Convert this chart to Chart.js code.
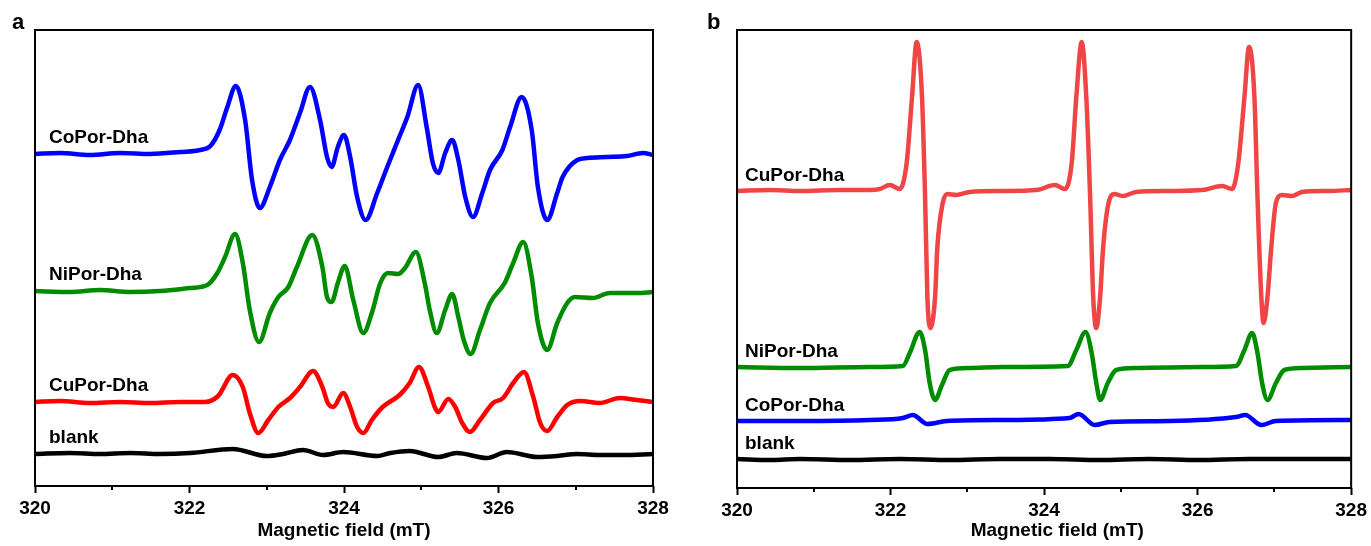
<!DOCTYPE html>
<html>
<head>
<meta charset="utf-8">
<title>EPR spectra</title>
<script src="https://cdn.jsdelivr.net/npm/chart.js@4.4.1/dist/chart.umd.min.js"></script>
<style>
    html, body { margin: 0; padding: 0; background: #ffffff; }
    #wrap { position: relative; width: 1371px; height: 546px; overflow: hidden; }
    #wrap canvas { position: absolute; top: 0; }
    #chartA { left: 0; }
    #chartB { left: 685px; }
</style>
</head>
<body>
<div id="wrap">
    <canvas id="chartA" width="685" height="546"></canvas>
    <canvas id="chartB" width="686" height="546"></canvas>
</div>
<script>
// Axis setup (mT)
const fieldMin = 320;
const fieldMax = 328;
const majorStep = 2;
const minorTicks = [321, 323, 325, 327];
const axisTitle = 'Magnetic field (mT)';

// Panel a - [field (mT), intensity (a.u.)]
const coPorA = [
    [320.00,332],[320.32,333],[320.71,331],[321.10,333],[321.49,332],[321.88,334],[322.14,336],[322.27,340],
    [322.39,356],[322.49,379],[322.60,400],[322.72,366],[322.81,306],[322.91,278],[323.04,299],[323.17,326],
    [323.30,346],[323.43,373],[323.56,399],[323.69,366],[323.78,329],[323.84,319],[323.92,339],[324.00,351],
    [324.08,329],[324.17,289],[324.28,266],[324.43,293],[324.56,319],[324.70,346],[324.82,369],[324.96,401],
    [325.07,359],[325.15,323],[325.22,313],[325.31,333],[325.40,346],[325.48,326],[325.57,289],[325.67,269],
    [325.79,293],[325.89,316],[326.05,336],[326.15,359],[326.30,389],[326.43,356],[326.51,299],[326.63,266],
    [326.76,293],[326.83,309],[327.02,326],[327.15,328],[327.40,329],[327.66,330],[327.87,333],[328.00,331]
];
const niPorA = [
    [320.00,195],[320.45,194],[320.84,196],[321.23,194],[321.62,195],[322.01,198],[322.23,201],[322.36,213],
    [322.46,229],[322.59,252],[322.69,223],[322.78,176],[322.90,144],[323.04,173],[323.15,189],[323.28,199],
    [323.39,219],[323.59,251],[323.72,219],[323.78,189],[323.84,184],[323.92,203],[324.01,220],[324.12,186],
    [324.25,153],[324.36,173],[324.47,203],[324.57,213],[324.70,212],[324.79,218],[324.93,234],[325.05,201],
    [325.11,176],[325.20,153],[325.31,176],[325.40,192],[325.48,169],[325.55,146],[325.64,132],[325.76,156],
    [325.89,183],[326.08,203],[326.19,223],[326.32,244],[326.43,209],[326.51,163],[326.63,136],[326.76,163],
    [326.89,183],[326.99,189],[327.22,188],[327.44,193],[327.79,193],[328.00,194]
];
const cuPorA = [
    [320.00,84],[320.32,85],[320.71,83],[321.10,84],[321.49,83],[321.88,84],[322.20,84],[322.37,90],
    [322.56,111],[322.69,99],[322.78,73],[322.89,53],[323.02,66],[323.15,79],[323.30,88],[323.43,99],
    [323.60,115],[323.72,99],[323.79,83],[323.86,79],[323.99,93],[324.08,79],[324.17,59],[324.25,53],
    [324.36,66],[324.50,79],[324.72,91],[324.85,103],[324.97,119],[325.09,99],[325.18,78],[325.22,74],
    [325.35,87],[325.44,79],[325.53,63],[325.63,54],[325.76,66],[325.93,83],[326.06,88],[326.19,103],
    [326.33,114],[326.45,89],[326.54,63],[326.63,55],[326.76,69],[326.89,81],[327.06,85],[327.31,83],
    [327.57,88],[327.79,86],[328.00,84]
];
const blankA = [
    [320.00,32],[320.45,33],[320.84,32],[321.23,33],[321.62,32],[322.01,33],[322.56,37],[323.00,30],
    [323.21,32],[323.47,36],[323.73,31],[323.99,34],[324.43,30],[324.60,33],[324.85,35],[325.22,29],
    [325.46,33],[325.85,28],[326.11,34],[326.50,29],[326.76,30],[327.02,32],[327.31,31],[327.61,31],
    [328.00,32]
];

// Panel b
const cuPorB = [
    [320.00,297],[320.43,298],[320.82,297],[321.34,298],[321.73,298],[321.86,299],[321.99,303],[322.12,299],
    [322.21,325],[322.28,391],[322.34,446],[322.41,391],[322.45,291],[322.48,191],[322.52,160],[322.58,191],
    [322.61,241],[322.68,285],[322.74,294],[322.86,293],[323.03,296],[323.46,297],[323.90,298],[324.14,303],
    [324.27,299],[324.36,325],[324.42,391],[324.49,446],[324.55,391],[324.60,291],[324.64,191],[324.68,160],
    [324.73,191],[324.77,241],[324.84,285],[324.92,294],[325.02,292],[325.20,296],[325.63,297],[326.06,298],
    [326.32,302],[326.45,299],[326.53,325],[326.61,391],[326.67,441],[326.74,391],[326.78,291],[326.83,191],
    [326.86,165],[326.91,191],[326.96,241],[327.02,285],[327.10,293],[327.23,292],[327.36,296],[327.71,297],
    [328.00,298]
];
const niPorB = [
    [320.00,121],[320.82,120],[321.73,121],[322.16,122],[322.25,135],[322.38,156],[322.45,138],[322.51,105],
    [322.58,88],[322.67,103],[322.77,118],[323.03,120],[323.46,121],[324.31,122],[324.42,138],[324.54,156],
    [324.62,135],[324.68,105],[324.73,88],[324.83,105],[324.94,118],[325.20,120],[326.06,121],[326.50,122],
    [326.61,138],[326.71,155],[326.78,135],[326.84,105],[326.91,88],[327.02,105],[327.13,118],[327.36,120],
    [328.00,121]
];
const coPorB = [
    [320.00,67],[320.82,67],[321.73,68],[322.16,70],[322.29,73],[322.48,64],[322.73,67],[323.46,68],
    [324.33,70],[324.45,74],[324.66,63],[324.85,66],[325.63,67],[326.50,71],[326.62,73],[326.83,63],
    [327.02,67],[328.00,68]
];
const blankB = [
    [320.00,29],[320.43,28],[320.82,29],[321.47,28],[322.12,29],[322.77,28],[323.42,29],[324.07,29],
    [324.72,28],[325.37,29],[326.02,28],[326.67,29],[327.32,29],[328.00,29]
];

const FONT = "'Liberation Sans', Arial, sans-serif";

// Frame, minor ticks, trace names and panel letter
const framePlugin = {
    id: 'frame',
    afterDraw(chart, args, opts) {
        const { ctx, chartArea: a } = chart;
        const xs = chart.scales.x;
        const ys = chart.scales.y;
        ctx.save();
        ctx.strokeStyle = '#000000';
        ctx.lineWidth = 2;
        ctx.strokeRect(a.left, a.top, a.right - a.left, a.bottom - a.top);

        minorTicks.forEach(v => {
            const px = Math.round(xs.getPixelForValue(v));
            ctx.beginPath();
            ctx.moveTo(px, a.bottom);
            ctx.lineTo(px, a.bottom + 4);
            ctx.stroke();
        });

        ctx.fillStyle = '#000000';
        ctx.font = `bold 19px ${FONT}`;
        ctx.textBaseline = 'middle';
        ctx.textAlign = 'left';
        chart.data.datasets.forEach(ds => {
            const first = ds.data[0];
            ctx.fillText(ds.label, a.left + opts.labelDx, ys.getPixelForValue(first.y) - opts.labelDy);
        });

        ctx.font = `bold 22px ${FONT}`;
        ctx.textBaseline = 'alphabetic';
        ctx.fillText(opts.letter, opts.letterX, 29);
        ctx.restore();
    }
};

function toPoints(arr) {
    return arr.map(p => ({ x: p[0], y: p[1] }));
}

function makeChart(canvasId, traces, cfg) {
    const ctx = document.getElementById(canvasId).getContext('2d');
    return new Chart(ctx, {
        type: 'line',
        data: {
            datasets: traces.map(t => ({
                label: t.name,
                data: toPoints(t.data),
                borderColor: t.color,
                backgroundColor: t.color,
                borderWidth: 4.5,
                pointRadius: 0,
                fill: false,
                cubicInterpolationMode: 'monotone',
                borderCapStyle: 'round',
                borderJoinStyle: 'round'
            }))
        },
        options: {
            responsive: false,
            animation: false,
            events: [],
            layout: { padding: cfg.padding },
            plugins: {
                legend: { display: false },
                tooltip: { enabled: false },
                frame: cfg.frame
            },
            scales: {
                x: {
                    type: 'linear',
                    min: fieldMin,
                    max: fieldMax,
                    afterFit: (s) => { s.height = cfg.axisHeight; },
                    ticks: {
                        stepSize: majorStep,
                        color: '#000000',
                        padding: 4,
                        font: { family: FONT, size: 19, weight: 'bold' }
                    },
                    grid: {
                        display: true,
                        drawOnChartArea: false,
                        drawTicks: true,
                        tickLength: 7,
                        tickWidth: 2,
                        tickColor: '#000000'
                    },
                    border: { display: false },
                    title: {
                        display: true,
                        text: cfg.title,
                        color: '#000000',
                        font: { family: FONT, size: 19, weight: 'bold' },
                        padding: { top: 0, bottom: 4 }
                    }
                },
                y: {
                    display: false,
                    min: 0,
                    max: cfg.yMax
                }
            }
        },
        plugins: [framePlugin]
    });
}

makeChart('chartA', [
    { name: 'CoPor-Dha', data: coPorA, color: '#0000ff' },
    { name: 'NiPor-Dha', data: niPorA, color: '#008c00' },
    { name: 'CuPor-Dha', data: cuPorA, color: '#ff0000' },
    { name: 'blank', data: blankA, color: '#000000' }
], {
    padding: { left: 35, right: 32, top: 30, bottom: 0 },
    axisHeight: 60,
    yMax: 456,
    title: axisTitle,
    frame: { letter: 'a', letterX: 12, labelDx: 14, labelDy: 16 }
});

makeChart('chartB', [
    { name: 'CuPor-Dha', data: cuPorB, color: '#f04545' },
    { name: 'NiPor-Dha', data: niPorB, color: '#008c00' },
    { name: 'CoPor-Dha', data: coPorB, color: '#0000ff' },
    { name: 'blank', data: blankB, color: '#000000' }
], {
    padding: { left: 52, right: 19, top: 30, bottom: 0 },
    axisHeight: 58,
    yMax: 458,
    // reference title sits a little right of centre
    title: '     ' + axisTitle,
    frame: { letter: 'b', letterX: 22, labelDx: 8, labelDy: 15 }
});
</script>
</body>
</html>
